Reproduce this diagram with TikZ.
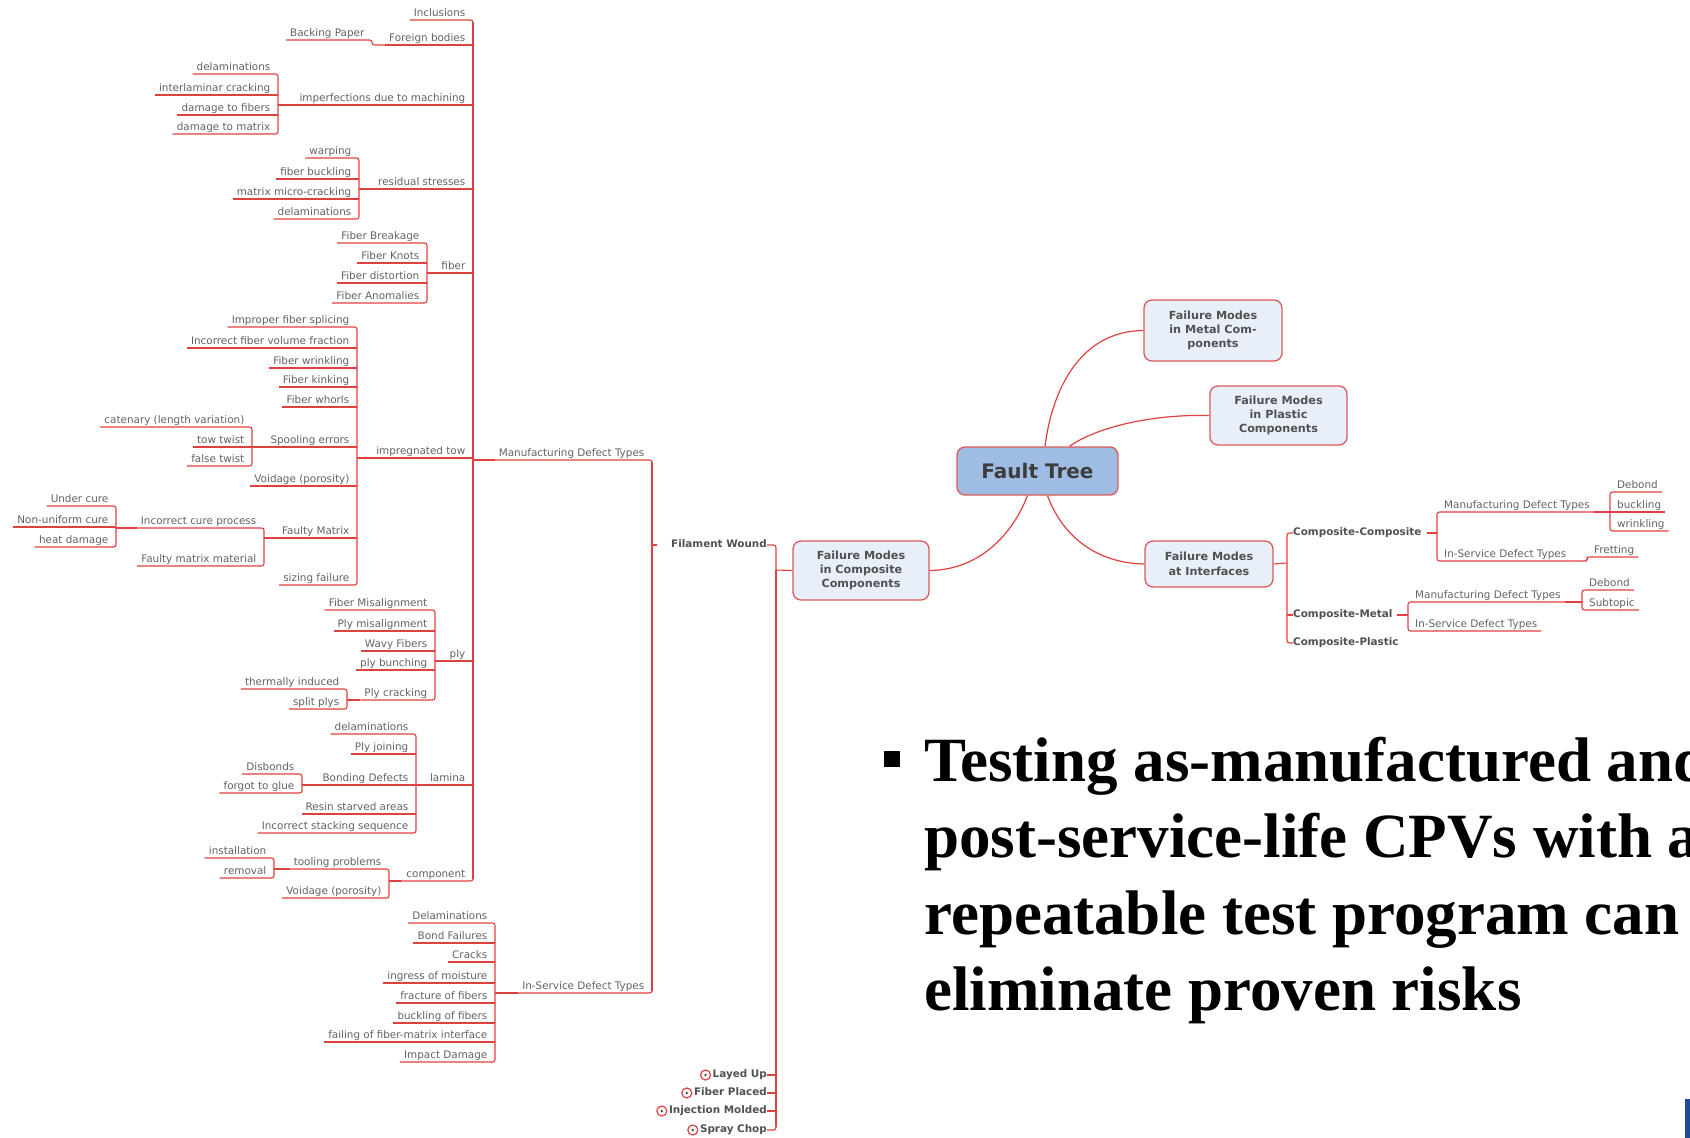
\documentclass[tikz,border=0pt]{standalone}
\usepackage{fontspec}
\setmainfont{DejaVu Sans}
\newfontfamily\tnr{Liberation Serif}
\definecolor{lred}{HTML}{E0403F}
\definecolor{tgray}{HTML}{626262}
\definecolor{bgray}{HTML}{505050}
\definecolor{ftext}{HTML}{3C3C3C}
\definecolor{boxfill}{HTML}{E8EFF9}
\definecolor{boxdraw}{HTML}{DD5A5A}
\definecolor{ftfill}{HTML}{9FBCE3}
\definecolor{barblue}{HTML}{1E4B93}
\newcommand\mapfont{\fontsize{10.4}{12}\selectfont}
\newcommand\Lf[4]{\node[lt] (#1) at (#2,#3) {#4};}
\newcommand\Rt[4]{\node[rt] (#1) at (#2,#3) {#4};}
\newcommand\Ul[1]{\draw[ul] (#1.south west) -- (#1.south east);}
\newcommand\Brk[2]{\draw[ul] (#1.south west) -- (#1.south east) -- (#2.south east) -- (#2.south west);}
\newcommand\Ext[2]{\draw[ul] (#2.south east |- #1.south west) -- (#1.south west);}
\tikzset{
  ul/.style={draw=lred, line width=1.1pt, rounded corners=2.5pt},
  trunk/.style={draw=lred, line width=1.9pt},
  thk/.style={draw=lred, line width=2.5pt},
  base/.style={font=\mapfont, text=tgray, inner xsep=4pt, inner ysep=1pt, text height=7.8pt, text depth=2.2pt},
  lt/.style={base, anchor=south east, execute at end node={\hspace*{3.5pt}}},
  rt/.style={base, anchor=south west, execute at begin node={\hspace*{3pt}}},
  bn/.style={font=\mapfont\bfseries, text=bgray, inner xsep=0pt, inner ysep=1pt, text height=7.8pt, text depth=2.2pt},
  fbox/.style={draw=boxdraw, fill=boxfill, rounded corners=8pt, line width=1.3pt, align=center,
    font=\fontsize{11.2}{14.4}\selectfont\bfseries, text=bgray, inner sep=2pt},
  cv/.style={draw=lred, line width=1.2pt},
  icon/.style={draw=lred, line width=1.2pt},
}
\begin{document}
\begin{tikzpicture}[x=1pt,y=-1pt]
\useasboundingbox (0,0) rectangle (1690,1138);
\clip (0,0) rectangle (1690,1138);
% ---------------- left tree ----------------
\Lf{inc}{473}{20}{Inclusions}
\Lf{fb}{473}{45}{Foreign bodies}
\Lf{bp}{372}{40}{Backing Paper}
\Lf{imp}{473}{105}{imperfections due to machining}
\Lf{im1}{278}{74}{delaminations}
\Lf{im2}{278}{95}{interlaminar cracking}
\Lf{im3}{278}{115}{damage to fibers}
\Lf{im4}{278}{134}{damage to matrix}
\Lf{rs}{473}{189}{residual stresses}
\Lf{rs1}{359}{158}{warping}
\Lf{rs2}{359}{179}{fiber buckling}
\Lf{rs3}{359}{199}{matrix micro-cracking}
\Lf{rs4}{359}{219}{delaminations}
\Lf{fib}{473}{273}{fiber}
\Lf{fi1}{427}{243}{Fiber Breakage}
\Lf{fi2}{427}{263}{Fiber Knots}
\Lf{fi3}{427}{283}{Fiber distortion}
\Lf{fi4}{427}{303}{Fiber Anomalies}
\Lf{it}{473}{458}{impregnated tow}
\Lf{it1}{357}{327}{Improper fiber splicing}
\Lf{it2}{357}{348}{Incorrect fiber volume fraction}
\Lf{it3}{357}{368}{Fiber wrinkling}
\Lf{it4}{357}{387}{Fiber kinking}
\Lf{it5}{357}{407}{Fiber whorls}
\Lf{se}{357}{447}{Spooling errors}
\Lf{se1}{252}{427}{catenary (length variation)}
\Lf{se2}{252}{447}{tow twist}
\Lf{se3}{252}{466}{false twist}
\Lf{vp}{357}{486}{Voidage (porosity)}
\Lf{fm}{357}{538}{Faulty Matrix}
\Lf{icp}{264}{528}{Incorrect cure process}
\Lf{ic1}{116}{506}{Under cure}
\Lf{ic2}{116}{527}{Non-uniform cure}
\Lf{ic3}{116}{547}{heat damage}
\Lf{fmm}{264}{566}{Faulty matrix material}
\Lf{sf}{357}{585}{sizing failure}
\Lf{ply}{473}{661}{ply}
\Lf{pl1}{435}{610}{Fiber Misalignment}
\Lf{pl2}{435}{631}{Ply misalignment}
\Lf{pl3}{435}{651}{Wavy Fibers}
\Lf{pl4}{435}{670}{ply bunching}
\Lf{pc}{435}{700}{Ply cracking}
\Lf{pc1}{347}{689}{thermally induced}
\Lf{pc2}{347}{709}{split plys}
\Lf{lam}{473}{785}{lamina}
\Lf{la1}{416}{734}{delaminations}
\Lf{la2}{416}{754}{Ply joining}
\Lf{bd}{416}{785}{Bonding Defects}
\Lf{bd1}{302}{774}{Disbonds}
\Lf{bd2}{302}{793}{forgot to glue}
\Lf{la4}{416}{814}{Resin starved areas}
\Lf{la5}{416}{833}{Incorrect stacking sequence}
\Lf{comp}{473}{881}{component}
\Lf{tp}{389}{869}{tooling problems}
\Lf{tp1}{274}{858}{installation}
\Lf{tp2}{274}{878}{removal}
\Lf{cvp}{389}{898}{Voidage (porosity)}
\Lf{mdt}{652}{460}{Manufacturing Defect Types}
\Lf{isdt}{652}{993}{In-Service Defect Types}
\Lf{is1}{495}{923}{Delaminations}
\Lf{is2}{495}{943}{Bond Failures}
\Lf{is3}{495}{962}{Cracks}
\Lf{is4}{495}{983}{ingress of moisture}
\Lf{is5}{495}{1003}{fracture of fibers}
\Lf{is6}{495}{1023}{buckling of fibers}
\Lf{is7}{495}{1042}{failing of fiber-matrix interface}
\Lf{is8}{495}{1062}{Impact Damage}
% brackets
\Brk{inc}{comp}
\foreach \n in {fb,imp,rs,fib,it,ply,lam} {\Ul{\n}}
\draw[trunk] ([yshift=-2pt]inc.south east) -- ([yshift=2pt]comp.south east);
\draw[ul] (bp.south west) -- (bp.south east) -- (bp.south east |- fb.south west) -- (fb.south west);
\Brk{im1}{im4} \Ul{im2} \Ul{im3} \Ext{imp}{im1}
\Brk{rs1}{rs4} \Ul{rs2} \Ul{rs3} \Ext{rs}{rs1}
\Brk{fi1}{fi4} \Ul{fi2} \Ul{fi3} \Ext{fib}{fi1}
\Brk{it1}{sf}
\foreach \n in {it2,it3,it4,it5,se,vp,fm} {\Ul{\n}}
\Ext{it}{it1}
\Brk{se1}{se3} \Ul{se2} \Ext{se}{se1}
\Brk{icp}{fmm} \Ext{fm}{icp}
\Brk{ic1}{ic3} \Ul{ic2} \Ext{icp}{ic1}
\Brk{pl1}{pc} \Ul{pl2} \Ul{pl3} \Ul{pl4} \Ext{ply}{pl1}
\Brk{pc1}{pc2} \Ext{pc}{pc1}
\Brk{la1}{la5} \Ul{la2} \Ul{bd} \Ul{la4} \Ext{lam}{la1}
\Brk{bd1}{bd2} \Ext{bd}{bd1}
\Brk{tp}{cvp} \Ext{comp}{tp}
\Brk{tp1}{tp2} \Ext{tp}{tp1}
\Brk{is1}{is8}
\foreach \n in {is2,is3,is4,is5,is6,is7} {\Ul{\n}}
\Ext{isdt}{is1}
\Ext{mdt}{inc}
\Brk{mdt}{isdt}
\draw[draw=lred, line width=1.6pt] ([yshift=-2pt]mdt.south east) -- ([yshift=2pt]isdt.south east);
% ---------------- composite components ----------------
\node[fbox, minimum width=136pt, minimum height=59pt] (cc) at (861,570.5) {Failure Modes\\in Composite\\Components};
\node[bn, anchor=east] (fw) at (767,545) {Filament Wound};
\node[bn, anchor=east] (lu) at (767,1075) {Layed Up};
\node[bn, anchor=east] (fp) at (767,1093) {Fiber Placed};
\node[bn, anchor=east] (imo) at (767,1111) {Injection Molded};
\node[bn, anchor=east] (sc) at (767,1130) {Spray Chop};
\coordinate (cbr) at (776,570);
\draw[ul] (cbr) -- (cc.west);
\draw[ul] (fw.east) -- (fw.east -| cbr) -- (sc.east -| cbr) -- (sc.east);
\foreach \n in {lu,fp,imo} {\draw[ul] (\n.east) -- (\n.east -| cbr);}
\draw[thk] (cbr) -- ([yshift=3pt]cbr |- sc.east);
\foreach \n in {lu,fp,imo,sc} {
  \draw[icon] ([xshift=-7pt]\n.west) circle (5pt);
  \fill[bgray] ([xshift=-7pt]\n.west) circle (1.4pt);}
\coordinate (fwt) at (657,545);
\draw[ul] (mdt.south east |- fwt) -- (fwt);
% ---------------- fault tree and other boxes ----------------
\node[fbox, fill=ftfill, minimum width=161pt, minimum height=48pt, font=\fontsize{20}{24}\selectfont\bfseries, text=ftext] (ft) at (1037.5,471) {Fault Tree};
\node[fbox, minimum width=138pt, minimum height=61pt] (met) at (1213,330.5) {Failure Modes\\in Metal Com-\\ponents};
\node[fbox, minimum width=137pt, minimum height=59pt] (pla) at (1278.5,415.5) {Failure Modes\\in Plastic\\Components};
\node[fbox, minimum width=128pt, minimum height=46pt] (ifc) at (1209,564) {Failure Modes\\at Interfaces};
\draw[cv] ([xshift=7.5pt]ft.north) .. controls (1052,390) and (1080,331) .. (met.west);
\draw[cv] ([xshift=32pt]ft.north) .. controls (1095,428) and (1150,414) .. (pla.west);
\draw[cv] ([xshift=-10pt]ft.south) .. controls (1010,540) and (975,570) .. (cc.east);
\draw[cv] ([xshift=10pt]ft.south) .. controls (1062,535) and (1095,563) .. (ifc.west);
% ---------------- interfaces ----------------
\node[bn, anchor=west] (ccomp) at (1293,533) {Composite-Composite};
\node[bn, anchor=west] (cmet) at (1293,615) {Composite-Metal};
\node[bn, anchor=west] (cpla) at (1293,643) {Composite-Plastic};
\coordinate (ibr) at (1287,563);
\draw[ul] (ifc.east) -- (ibr);
\draw[ul] (ccomp.west) -- (ccomp.west -| ibr) -- (cpla.west -| ibr) -- (cpla.west);
\draw[ul] (cmet.west) -- (cmet.west -| ibr);
\coordinate (ccb) at (1437,533);
\draw[ul] ([xshift=5pt]ccomp.east) -- (ccb);
\Rt{ccm}{1437}{512}{Manufacturing Defect Types}
\Rt{ccis}{1437}{561}{In-Service Defect Types}
\draw[ul] (ccm.south east) -- (ccm.south west) -- (ccis.south west) -- (ccis.south east);
\Rt{db1}{1610}{492}{Debond}
\Rt{bk1}{1610}{512}{buckling}
\Rt{wr1}{1610}{531}{wrinkling}
\draw[ul] (db1.south east) -- (db1.south west) -- (wr1.south west) -- (wr1.south east);
\Ul{bk1}
\draw[ul] (ccm.south east) -- (bk1.south west);
\Rt{fr}{1587}{557}{Fretting}
\draw[ul] (ccis.south east) -- (ccis.south east -| fr.south west) -- (fr.south west) -- (fr.south east);
\coordinate (cmb) at (1408,615);
\draw[ul] ([xshift=4pt]cmet.east) -- (cmb);
\Rt{cmm}{1408}{602}{Manufacturing Defect Types}
\Rt{cmis}{1408}{631}{In-Service Defect Types}
\draw[ul] (cmm.south east) -- (cmm.south west) -- (cmis.south west) -- (cmis.south east);
\Rt{db2}{1582}{590}{Debond}
\Rt{sub}{1582}{610}{Subtopic}
\draw[ul] (db2.south east) -- (db2.south west) -- (sub.south west) -- (sub.south east);
\draw[ul] (cmm.south east) -- (cmm.south east -| db2.south west);
% ---------------- bullet text ----------------
\node[fill=black, minimum size=16pt, inner sep=0pt] (bul) at (892,759) {};
\tikzset{tl/.style={anchor=base west, inner sep=0pt, font=\tnr\bfseries\fontsize{63}{76}\selectfont}}
\node[tl] (t1) at (924,781) {Testing as-manufactured and};
\node[tl] (t2) at (924,857.5) {post-service-life CPVs with a};
\node[tl] (t3) at (924,934) {repeatable test program can};
\node[tl] (t4) at (924,1010.5) {eliminate proven risks};
\node[fill=barblue, minimum width=5pt, minimum height=39pt, inner sep=0pt, anchor=north west] (bar) at (1685,1099) {};
\end{tikzpicture}
\end{document}
